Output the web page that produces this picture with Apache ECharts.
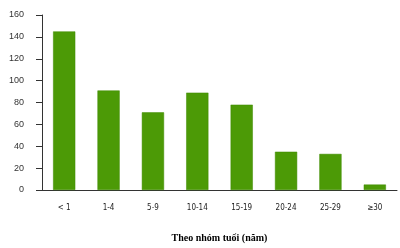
<!DOCTYPE html>
<html><head><meta charset="utf-8">
<script src="https://cdn.jsdelivr.net/npm/echarts@6/dist/echarts.min.js"></script>
<style>html,body{margin:0;padding:0;background:#fff}#c{width:400px;height:248px}</style>
</head><body><div id="c"></div>
<script>
const categories = ['< 1', '1-4', '5-9', '10-14', '15-19', '20-24', '25-29', '≥30'];
const values = [145, 91, 71, 89, 78, 35, 33, 5];
const yTicks = [0, 20, 40, 60, 80, 100, 120, 140, 160];
const xTitle = 'Theo nhóm tuổi (năm)';

const chart = echarts.init(document.getElementById('c'));
chart.setOption({
  animation: false,
  grid: { left: 42, right: 3, top: 15, bottom: 49.5 },
  xAxis: {
    type: 'category', data: categories,
    axisLine: { lineStyle: { color: '#333', width: 1 } },
    axisTick: { show: false },
    axisLabel: { margin: 14, fontSize: 8, color: '#222', fontFamily: 'Liberation Sans Narrow, DejaVu Sans Condensed, sans-serif' },
    name: xTitle, nameLocation: 'middle', nameGap: 43,
    nameTextStyle: { fontFamily: 'Liberation Serif, serif', fontWeight: 'bold', fontSize: 10, color: '#000' }
  },
  yAxis: {
    type: 'value', min: yTicks[0], max: yTicks[yTicks.length - 1], interval: 20,
    axisLine: { show: true, lineStyle: { color: '#333', width: 1 } },
    axisTick: { show: true, length: 6, lineStyle: { color: '#333' } },
    splitLine: { show: false },
    axisLabel: { margin: 18, fontSize: 9, color: '#333', fontFamily: 'Liberation Sans, Arial, sans-serif' }
  },
  series: [{
    type: 'bar', data: values, barWidth: '50%',
    itemStyle: { color: '#4c9a06', borderColor: '#3f8a00', borderWidth: 0.5 }
  }]
});
</script></body></html>
